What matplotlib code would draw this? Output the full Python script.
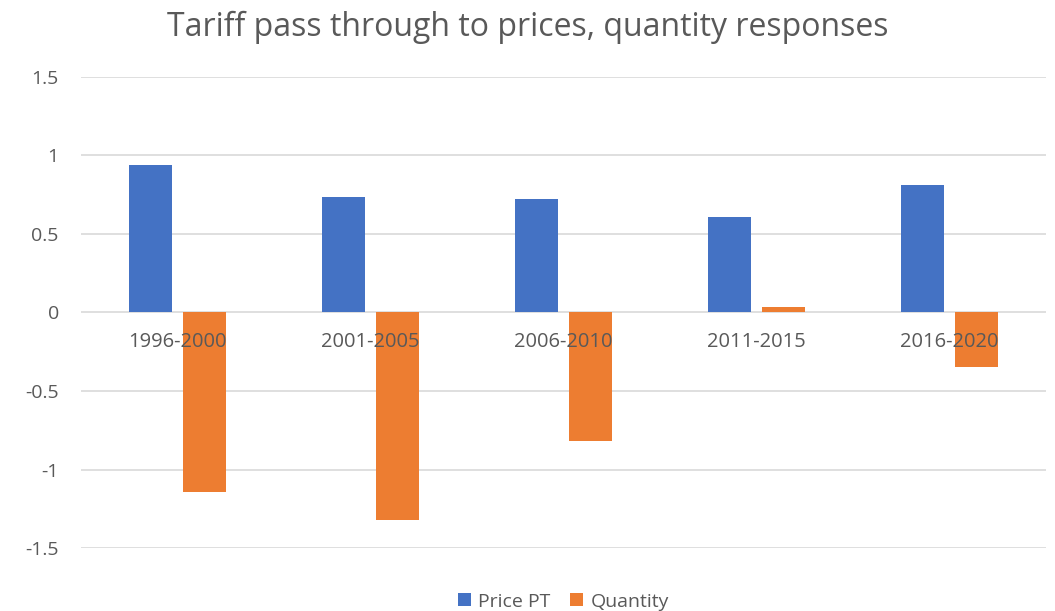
import matplotlib.pyplot as plt
import numpy as np

# data
periods = ["1996-2000", "2001-2005", "2006-2010", "2011-2015", "2016-2020"]
price_pt = [0.942, 0.735, 0.722, 0.608, 0.812]
quantity = [-1.145, -1.32, -0.82, 0.038, -0.347]
y_ticks = [-1.5, -1, -0.5, 0, 0.5, 1, 1.5]
y_labels = ["-1.5", "-1", "-0.5", "0", "0.5", "1", "1.5"]

BLUE = "#4472C4"
ORANGE = "#ED7D31"
GREY = "#595959"

plt.rcParams["font.family"] = ["Open Sans", "DejaVu Sans"]

fig = plt.figure(figsize=(10.55, 6.11), dpi=100)
ax = fig.add_axes([0.0768, 0.1031, 0.9147, 0.7709])

x = np.arange(len(periods))
width = 0.223
offset = 0.14
ax.bar(x - offset, price_pt, width, color=BLUE, label="Price PT", zorder=2)
ax.bar(x + offset, quantity, width, color=ORANGE, label="Quantity", zorder=2)

ax.set_xlim(-0.5, len(periods) - 0.5)
ax.set_ylim(-1.5, 1.5)
ax.set_yticks(y_ticks)
ax.set_yticklabels(y_labels)
ax.set_xticks([])
ax.grid(axis="y", color="#d9d9d9", linewidth=1.2, zorder=0)
ax.set_axisbelow(True)
for s in ax.spines.values():
    s.set_visible(False)
ax.tick_params(axis="y", length=0, labelsize=14, labelcolor=GREY, pad=16)

# category labels sit just under the zero line, over the bars
for xi, lab in zip(x, periods):
    ax.annotate(lab, (xi, 0), xytext=(0, -14), textcoords="offset points",
                ha="center", va="top", fontsize=14.5, color=GREY, zorder=3)

fig.suptitle("Tariff pass through to prices, quantity responses",
             fontsize=23, color=GREY, y=0.982)

ax.legend(loc="lower center", bbox_to_anchor=(0.5, -0.162), ncol=2,
          frameon=False, fontsize=14, labelcolor=GREY,
          handlelength=0.65, handleheight=0.65, handletextpad=0.4, columnspacing=1.0,
          borderpad=0.2)

fig.savefig("out.png", dpi=100)
